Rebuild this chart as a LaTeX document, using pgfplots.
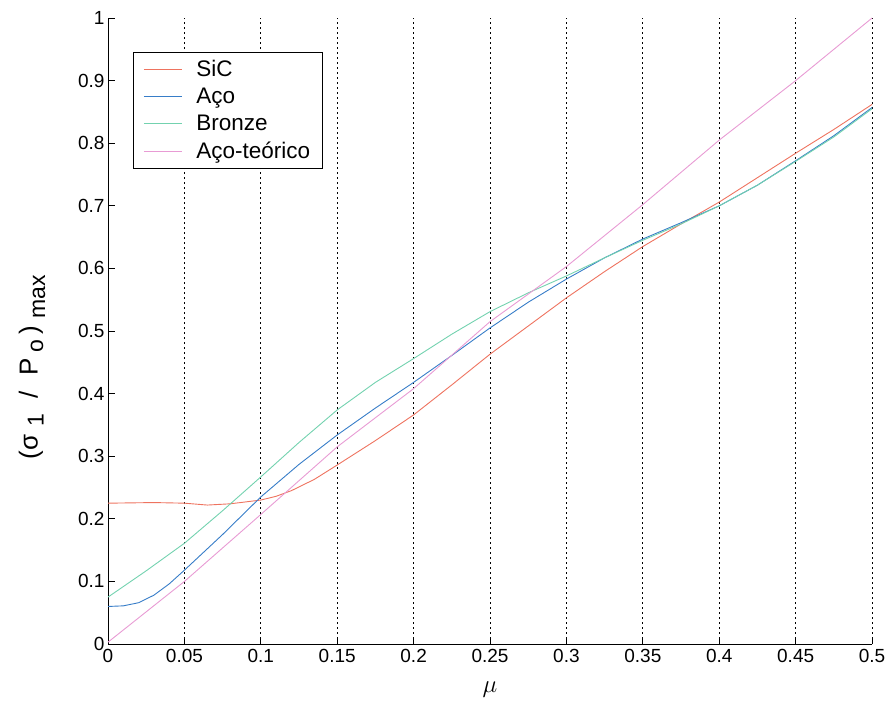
\documentclass[border=0pt]{standalone}
\usepackage{pgfplots}
\pgfplotsset{compat=1.18}
\usepackage{fontspec}
\setmainfont{Liberation Sans}
\definecolor{sic}{RGB}{238,115,95}
\definecolor{aco}{RGB}{55,125,200}
\definecolor{bronze}{RGB}{115,210,175}
\definecolor{teo}{RGB}{232,155,212}
\newcommand{\sub}[2][-0.45ex]{\raisebox{#1}{\fontsize{23}{25}\selectfont #2}}
\begin{document}
\begin{tikzpicture}
\begin{axis}[
  scale only axis, width=764pt, height=626pt,
  xmin=0, xmax=0.5, ymin=0, ymax=1,
  xtick={0,0.05,0.1,0.15,0.2,0.25,0.3,0.35,0.4,0.45,0.5},
  ytick={0,0.1,0.2,0.3,0.4,0.5,0.6,0.7,0.8,0.9,1},
  scaled ticks=false,
  /pgf/number format/fixed, /pgf/number format/precision=2,
  /pgf/number format/assume math mode=true,
  axis x line*=bottom, axis y line*=left,
  axis line style={-, black, line width=0.9pt},
  xmajorgrids,
  grid style={black, dash pattern=on 2pt off 3pt, line width=0.9pt},
  tick style={black, line width=0.9pt}, major tick length=7pt,
  tick align=inside,
  ticklabel style={font=\fontsize{19}{22}\selectfont},
  xticklabel style={yshift=-2pt},
  xlabel={$\mu$},
  xlabel style={font=\fontsize{27}{30}\selectfont, at={(axis description cs:0.5,-0.0735)}, anchor=center},
  ylabel={(σ\hspace{0.3em}\sub{1}\hspace{0.6em}/\hspace{0.6em}P\hspace{0.2em}\sub[-0.4ex]{o}\hspace{0.2em})\hspace{0.3em}\sub[-0.55ex]{max}},
  ylabel style={font=\fontsize{26}{28}\selectfont, at={(axis description cs:-0.0995,0.4425)}, anchor=center},
  legend style={at={(axis description cs:0.0327,0.9457)}, anchor=north west,
    draw=black, line width=0.7pt, font=\fontsize{22.5}{26}\selectfont,
    row sep=6pt, inner xsep=10pt, inner ysep=6pt},
  legend cell align=left,
  legend image code/.code={\draw[#1, line width=0.9pt] (0pt,0pt) -- (38pt,0pt); \path (50pt,0pt);},
  every axis plot/.append style={line width=0.9pt},
  clip=false,
]
\path (axis description cs:-0.1414,-0.1038) rectangle (axis description cs:1.0222,1.0288);
\addplot[sic] coordinates {
(0,0.225) (0.03,0.226) (0.05,0.225) (0.065,0.222) (0.08,0.224) (0.1,0.230)
(0.11,0.236) (0.12,0.245) (0.135,0.263) (0.15,0.286) (0.175,0.325) (0.2,0.366)
(0.225,0.414) (0.25,0.463) (0.275,0.508) (0.3,0.553) (0.325,0.595) (0.35,0.635)
(0.375,0.671) (0.4,0.706) (0.425,0.745) (0.45,0.784) (0.475,0.822) (0.5,0.862)};
\addlegendentry{SiC}
\addplot[aco] coordinates {
(0,0.060) (0.01,0.061) (0.02,0.066) (0.03,0.078) (0.04,0.096) (0.05,0.118)
(0.075,0.175) (0.1,0.235) (0.125,0.287) (0.15,0.334) (0.175,0.377) (0.2,0.418)
(0.225,0.461) (0.25,0.505) (0.275,0.546) (0.3,0.583) (0.325,0.617) (0.35,0.647)
(0.375,0.673) (0.4,0.700) (0.425,0.733) (0.45,0.772) (0.475,0.812) (0.5,0.857)};
\addlegendentry{Aço}
\addplot[bronze] coordinates {
(0,0.075) (0.025,0.117) (0.05,0.161) (0.075,0.213) (0.1,0.267) (0.125,0.322)
(0.15,0.374) (0.175,0.418) (0.2,0.456) (0.225,0.495) (0.25,0.531) (0.275,0.561)
(0.3,0.588) (0.325,0.617) (0.35,0.645) (0.375,0.671) (0.4,0.700) (0.425,0.733)
(0.45,0.771) (0.475,0.810) (0.5,0.855)};
\addlegendentry{Bronze}
\addplot[teo] coordinates {
(0,0.003) (0.05,0.100) (0.1,0.207) (0.15,0.315) (0.2,0.408) (0.25,0.515)
(0.3,0.603) (0.35,0.702) (0.4,0.805) (0.45,0.900) (0.5,1.0)};
\addlegendentry{Aço-teórico}
\end{axis}
\end{tikzpicture}
\end{document}
